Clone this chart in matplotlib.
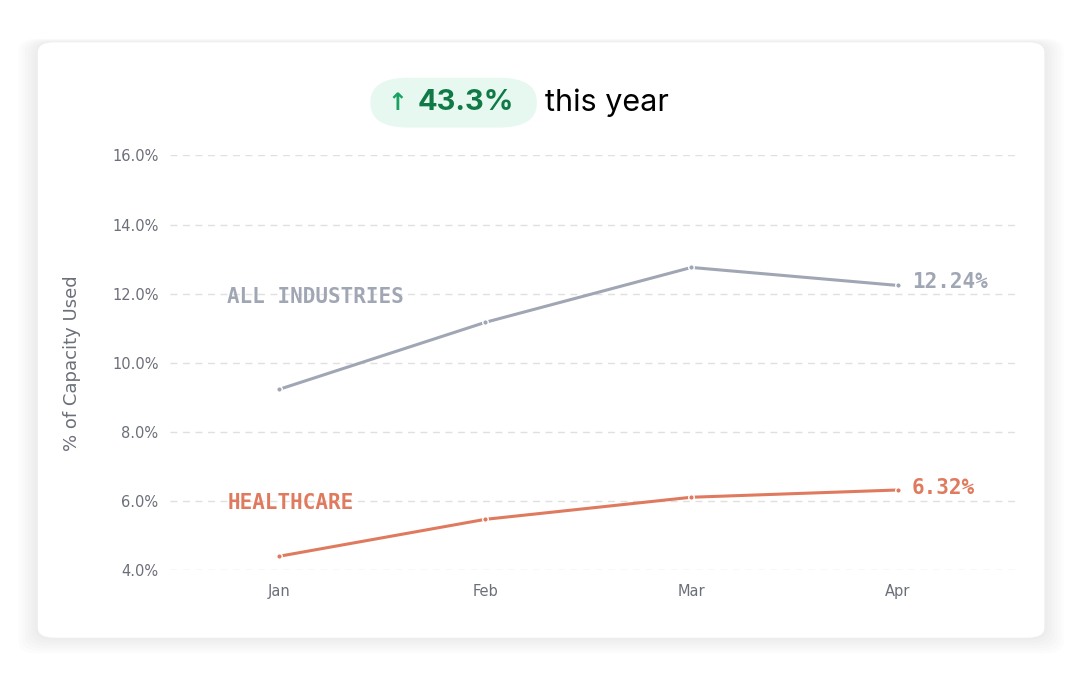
import matplotlib.pyplot as plt
from matplotlib.patches import FancyBboxPatch

months = ['Jan', 'Feb', 'Mar', 'Apr']
all_industries = [9.23, 11.17, 12.76, 12.24]
healthcare = [4.40, 5.47, 6.11, 6.32]
yticks = [4, 6, 8, 10, 12, 14, 16]

GREY = '#a0a6b4'
ORANGE = '#e07a5f'

fig = plt.figure(figsize=(10.8, 6.82), dpi=100)
fig.patch.set_facecolor('white')

# card with soft shadow
for i in range(6):
    d = 0.003 * (i + 1)
    fig.patches.append(FancyBboxPatch((0.035 - d, 0.065 - d * 1.3), 0.932 + 2 * d, 0.873 + 1.6 * d,
                                      boxstyle='round,pad=0,rounding_size=0.018',
                                      transform=fig.transFigure, fc='black', ec='none', alpha=0.012, zorder=0))
fig.patches.append(FancyBboxPatch((0.035, 0.065), 0.932, 0.873,
                                  boxstyle='round,pad=0,rounding_size=0.015',
                                  transform=fig.transFigure, fc='white', ec='none', zorder=1))

ax = fig.add_axes([0.157, 0.164, 0.783, 0.608])
ax.set_zorder(5)
ax.set_facecolor('none')
x = range(len(months))
ax.plot(x, all_industries, color=GREY, lw=2.2, marker='o', ms=4, mec='white', mew=1)
ax.plot(x, healthcare, color=ORANGE, lw=2.2, marker='o', ms=4, mec='white', mew=1)

ax.set_xlim(-0.53, 3.57)
ax.set_ylim(4, 16)
ax.set_xticks(list(x))
ax.set_xticklabels(months)
ax.set_yticks(yticks)
ax.set_yticklabels([f'{v:.1f}%' for v in yticks])
ax.tick_params(length=0, labelsize=10.5, labelcolor='#6b6f78', pad=8)
ax.tick_params(axis='x', pad=10)
ax.grid(axis='y', color='#e0e0e0', ls=(0, (5, 4)), lw=1)
for s in ax.spines.values():
    s.set_visible(False)
ax.set_ylabel('% of Capacity Used', fontsize=13, color='#6b6f78', labelpad=22)

mono = dict(family='DejaVu Sans Mono', weight='bold', fontsize=15)
ax.text(-0.25, 11.9, 'ALL INDUSTRIES', color=GREY, va='center', **mono)
ax.text(-0.25, 5.95, 'HEALTHCARE', color=ORANGE, va='center', **mono)
ax.text(3.07, all_industries[-1] + 0.1, f'{all_industries[-1]:.2f}%', color=GREY, va='center', **mono)
ax.text(3.07, healthcare[-1] + 0.05, f'{healthcare[-1]:.2f}%', color=ORANGE, va='center', **mono)

# badge
fig.patches.append(FancyBboxPatch((0.343, 0.813), 0.154, 0.073,
                                  boxstyle='round,pad=0,rounding_size=0.035',
                                  transform=fig.transFigure, fc='#e6f8ef', ec='none', zorder=2))
fig.text(0.368, 0.849, '↑', color='#1aa260', fontsize=17, weight='bold', ha='center', va='center', zorder=3)
fig.text(0.387, 0.849, '43.3%', color='#0f7a45', fontsize=21, weight='bold', ha='left', va='center',
         family='Inter', zorder=3)
fig.text(0.505, 0.849, 'this year', color='black', fontsize=22, ha='left', va='center', family='Inter', zorder=3)

fig.savefig('out.png', dpi=100)
